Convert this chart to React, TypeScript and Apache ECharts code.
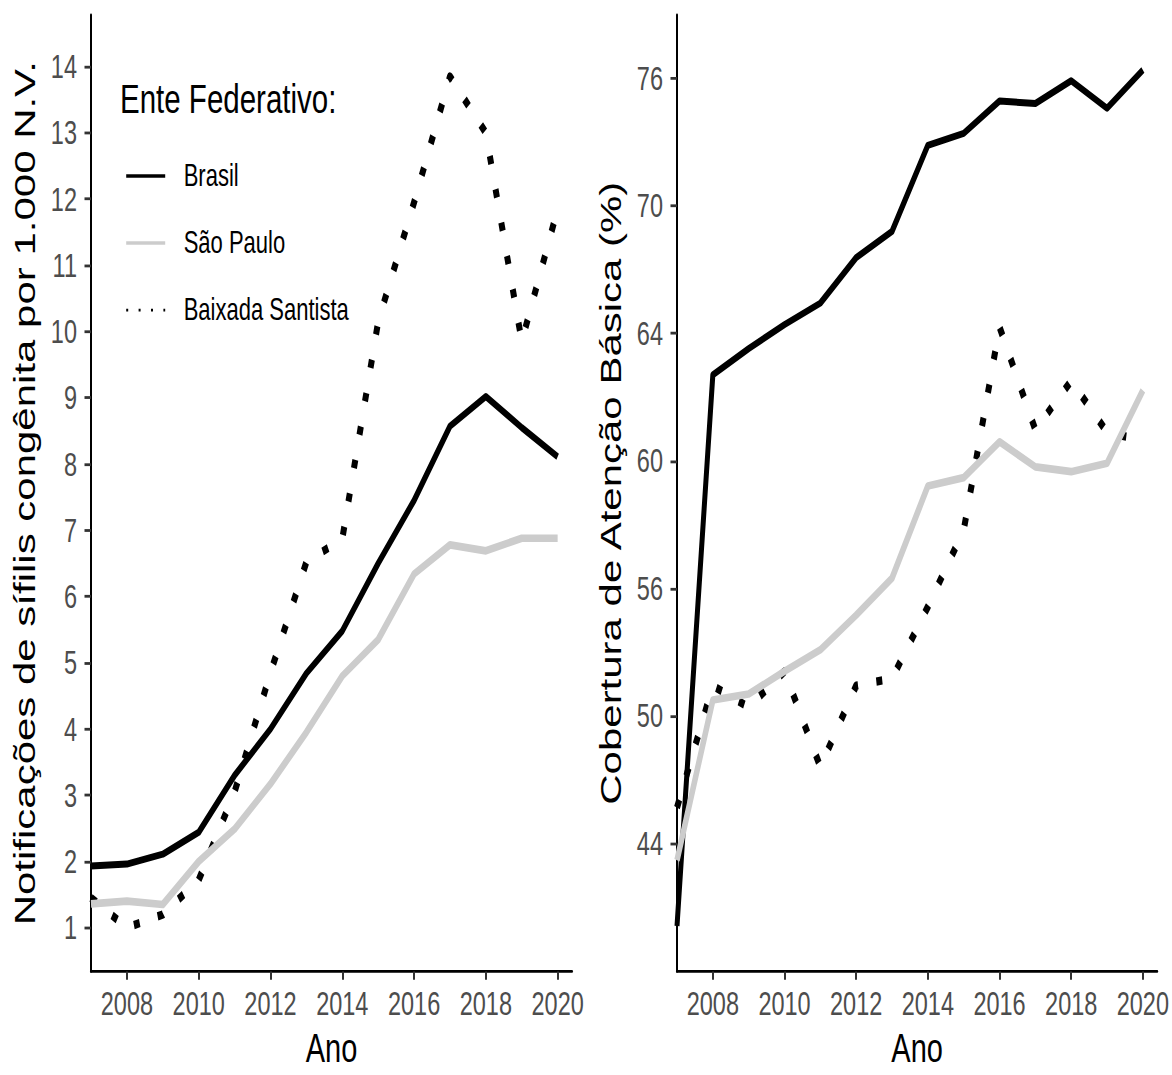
import React, { useEffect, useRef } from "react";
import * as echarts from "echarts";

// ---- data ----
const years = [2007, 2008, 2009, 2010, 2011, 2012, 2013, 2014, 2015, 2016, 2017, 2018, 2019, 2020];
const xTicks = [2008, 2010, 2012, 2014, 2016, 2018, 2020];
const seriesNames = ["Brasil", "São Paulo", "Baixada Santista"];

// Notificações de sífilis congênita por 1.000 N.V.
const brasilSifilis = [1.93, 1.96, 2.11, 2.44, 3.3, 4.0, 4.84, 5.48, 6.5, 7.45, 8.57, 9.02, 8.55, 8.11];
const spSifilis = [1.36, 1.4, 1.35, 2.0, 2.49, 3.17, 3.95, 4.8, 5.35, 6.34, 6.78, 6.69, 6.88, 6.88];
const bsSifilis = [1.45, 1.0, 1.2, 1.72, 3.05, 4.85, 6.52, 6.87, 10.15, 11.95, 13.85, 13.0, 9.85, 11.85];
const leftTicks = [1, 2, 3, 4, 5, 6, 7, 8, 9, 10, 11, 12, 13, 14];

// Cobertura de Atenção Básica (%)
const brasilCob = [40.55, 63.6, 64.7, 65.7, 66.6, 68.5, 69.6, 73.2, 73.7, 75.05, 74.95, 75.9, 74.75, 76.35];
const spCob = [43.3, 50.0, 50.25, 51.2, 52.1, 53.55, 55.1, 58.95, 59.3, 60.8, 59.75, 59.55, 59.9, 62.95];
const bsCob = [45.5, 50.6, 49.7, 51.2, 47.2, 50.6, 50.9, 53.9, 57.1, 65.6, 61.3, 63.35, 61.2, 60.85];
const rightTickValues = [44, 49.333, 54.667, 60, 65.333, 70.667, 76];
const rightTickLabels = ["44", "50", "56", "60", "64", "70", "76"];

// ---- layout ----
const W = 1172;
const H = 768;
const SY = 1075 / H;
const FONT = "'Liberation Sans', Arial, Helvetica, sans-serif";

const pairs = (vals: number[]) => years.map((y, i) => [y, vals[i]]);

const xAxisFor = (gridIndex: number) => ({
  type: "value",
  gridIndex,
  min: 2007,
  max: 2020.4,
  name: "Ano",
  nameLocation: "middle",
  nameGap: 40,
  nameTextStyle: { fontSize: 29, color: "#000", fontFamily: FONT },
  axisLine: { show: true, onZero: false, lineStyle: { color: "#000", width: 2 } },
  axisTick: { show: true, length: 6, lineStyle: { color: "#333", width: 2 }, customValues: xTicks },
  axisLabel: {
    show: true,
    customValues: xTicks,
    margin: 11,
    fontSize: 23.5,
    color: "#4d4d4d",
    fontFamily: FONT,
    formatter: (v: number) => String(v),
  },
  splitLine: { show: false },
});

const yAxisBase = (gridIndex: number, name: string) => ({
  type: "value",
  gridIndex,
  name,
  nameLocation: "middle",
  nameRotate: 90,
  nameGap: 51,
  nameTextStyle: { fontSize: 30, color: "#000", fontFamily: FONT },
  axisLine: { show: true, onZero: false, lineStyle: { color: "#000", width: 2 } },
  splitLine: { show: false },
});

const lineStyles: Record<string, any> = {
  Brasil: { color: "#000", width: 5, join: "round", cap: "butt" },
  "São Paulo": { color: "#cccccc", width: 5.5, join: "round", cap: "butt" },
  "Baixada Santista": { color: "#000", width: 6, type: [6, 18.5], cap: "butt", join: "round" },
};

const mkSeries = (name: string, vals: number[], idx: number) => ({
  type: "line",
  name,
  xAxisIndex: idx,
  yAxisIndex: idx,
  data: pairs(vals),
  symbol: "none",
  showSymbol: false,
  lineStyle: lineStyles[name],
  itemStyle: { color: lineStyles[name].color },
  emphasis: { disabled: true },
});

export default function App() {
  const ref = useRef<HTMLDivElement>(null);

  useEffect(() => {
    if (!ref.current) return;
    const chart = echarts.init(ref.current, null, { renderer: "svg" });
    const option: any = {
      animation: false,
      backgroundColor: "#fff",
      textStyle: { fontFamily: FONT },
      title: {
        text: "Ente Federativo:",
        left: 120,
        top: 56,
        padding: 0,
        textStyle: { fontSize: 29.5, fontWeight: "normal", color: "#000", fontFamily: FONT, lineHeight: 30 },
      },
      legend: {
        orient: "vertical",
        left: 125,
        top: 114.7,
        padding: 0,
        itemWidth: 39,
        itemHeight: 14,
        itemGap: 25.9,
        selectedMode: false,
        itemStyle: { opacity: 0, color: "transparent", borderWidth: 0 },
        lineStyle: { width: 2.4 },
        textStyle: { fontSize: 22, lineHeight: 22, color: "#000", fontFamily: FONT, padding: [0, 0, 0, 13.5] },
        data: [
          { name: seriesNames[0] },
          { name: seriesNames[1] },
          { name: seriesNames[2], lineStyle: { width: 2, type: [2, 10.4] } },
        ],
      },
      grid: [
        { left: 91, top: 10.7, width: 481, bottom: 68, containLabel: false },
        { left: 677, top: 10.7, width: 483, bottom: 68, containLabel: false },
      ],
      xAxis: [xAxisFor(0), xAxisFor(1)],
      yAxis: [
        {
          ...yAxisBase(0, "Notificações de sífilis congênita por 1.000 N.V."),
          min: 0.34,
          max: 14.78,
          axisTick: { show: true, length: 6.5, lineStyle: { color: "#333", width: 2 }, customValues: leftTicks },
          axisLabel: {
            show: true,
            customValues: leftTicks,
            margin: 14,
            fontSize: 23.5,
            color: "#4d4d4d",
            fontFamily: FONT,
            formatter: (v: number) => String(v),
          },
        },
        {
          ...yAxisBase(1, "Cobertura de Atenção Básica (%)"),
          min: 38.65,
          max: 78.65,
          axisTick: { show: true, length: 6.5, lineStyle: { color: "#333", width: 2 }, customValues: rightTickValues },
          axisLabel: {
            show: true,
            customValues: rightTickValues,
            margin: 14,
            fontSize: 23.5,
            color: "#4d4d4d",
            fontFamily: FONT,
            formatter: (v: number) => {
              const i = rightTickValues.findIndex((t) => Math.abs(t - v) < 0.01);
              return i >= 0 ? rightTickLabels[i] : "";
            },
          },
        },
      ],
      series: [
        mkSeries("Baixada Santista", bsSifilis, 0),
        mkSeries("Brasil", brasilSifilis, 0),
        mkSeries("São Paulo", spSifilis, 0),
        mkSeries("Baixada Santista", bsCob, 1),
        mkSeries("Brasil", brasilCob, 1),
        mkSeries("São Paulo", spCob, 1),
      ],
    };
    chart.setOption(option);
    return () => chart.dispose();
  }, []);

  return (
    <div
      ref={ref}
      style={{
        position: "fixed",
        left: 0,
        top: 0,
        width: W,
        height: H,
        transform: `scaleY(${SY})`,
        transformOrigin: "0 0",
        background: "#fff",
      }}
    />
  );
}
